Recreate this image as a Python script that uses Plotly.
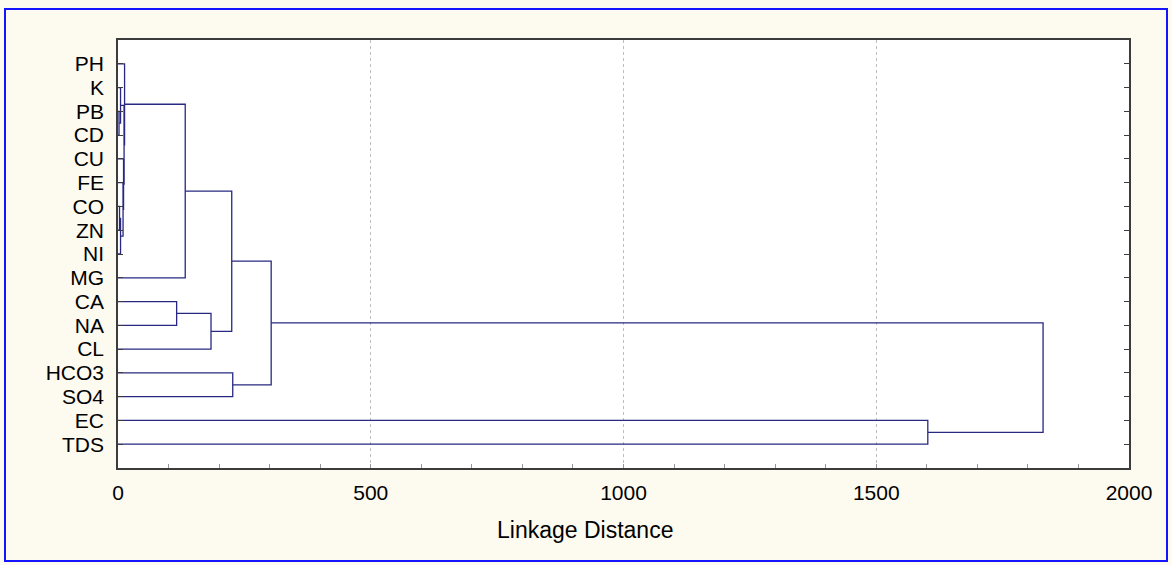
import plotly.graph_objects as go

# Leaf labels in display order (top to bottom)
labels = ["PH", "K", "PB", "CD", "CU", "FE", "CO", "ZN", "NI", "MG",
          "CA", "NA", "CL", "HCO3", "SO4", "EC", "TDS"]

# Linkage steps: (left child, right child, linkage distance)
# children are leaf names or merge ids "m1", "m2", ...
merge_left = ["PB", "K", "CO", "m3", "FE", "CU", "m2", "PH", "m8", "CA", "m10", "m9", "HCO3", "m12", "EC", "m14"]
merge_right = ["CD", "m1", "ZN", "NI", "m4", "m5", "m6", "m7", "MG", "NA", "CL", "m11", "SO4", "m13", "TDS", "m15"]
merge_dist = [2, 5, 3, 5, 10, 11, 12, 13, 133, 116, 184, 225, 227, 303, 1602, 1830]

x_ticks = [0, 500, 1000, 1500, 2000]
x_title = "Linkage Distance"

line_color = "rgb(40,40,130)"

pos = {lab: (float(i), 0.0) for i, lab in enumerate(labels)}
fig = go.Figure()
for k, (a, b, d) in enumerate(zip(merge_left, merge_right, merge_dist)):
    ya, xa = pos[a]
    yb, xb = pos[b]
    fig.add_trace(go.Scatter(
        x=[xa, d, d, xb], y=[ya, ya, yb, yb], mode="lines",
        line=dict(color=line_color, width=1.3), hoverinfo="skip", showlegend=False))
    pos["m%d" % (k + 1)] = ((ya + yb) / 2.0, d)

W, H = 1172, 565
L, R, T, B = 118, 43, 40, 97
pw, ph = W - L - R, H - T - B

def px_x(p):
    return (p - L) / pw

def px_y(p):
    return (H - B - p) / ph

fig.add_shape(type="rect", xref="paper", yref="paper",
              x0=px_x(5), x1=px_x(1167), y0=px_y(561), y1=px_y(9),
              line=dict(color="rgb(20,20,255)", width=2), layer="below")

family = "Liberation Sans, Arial, sans-serif"
tick_font = dict(family=family, size=21, color="black")
title_font = dict(family=family, size=23, color="black")

fig.add_annotation(text=x_title, xref="paper", yref="paper",
                   x=px_x(585), y=px_y(530), xanchor="center", yanchor="middle",
                   showarrow=False, font=title_font)

fig.update_layout(
    width=W, height=H,
    margin=dict(l=L, r=R, t=T, b=B),
    paper_bgcolor="rgb(253,250,240)",
    plot_bgcolor="white",
    font=tick_font,
    hovermode=False,
    xaxis=dict(
        range=[0, 2000], tickvals=x_ticks, ticktext=[str(v) for v in x_ticks],
        tickfont=tick_font,
        showgrid=True, gridcolor="rgb(190,190,190)", griddash="dot", gridwidth=1,
        zeroline=False, showline=True, linecolor="rgb(60,60,60)", linewidth=1.5,
        mirror=True, ticks="inside", ticklen=4, tickcolor="rgb(150,150,150)",
        minor=dict(dtick=100, tick0=0, ticks="inside", ticklen=4, tickcolor="rgb(150,150,150)", showgrid=False),
        ticklabelstandoff=5,
    ),
    yaxis=dict(
        range=[17, -1], tickvals=list(range(len(labels))), ticktext=labels,
        tickfont=tick_font,
        showgrid=False, zeroline=False, showline=True, linecolor="rgb(60,60,60)", linewidth=1.5,
        mirror="ticks", ticks="inside", ticklen=5, tickcolor="rgb(60,60,60)",
        ticklabelstandoff=8,
    ),
)

fig.write_html("out.html")
